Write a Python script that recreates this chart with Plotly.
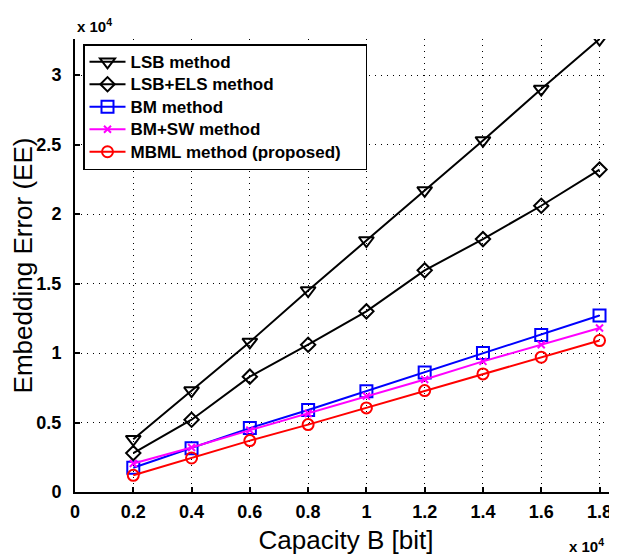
import plotly.graph_objects as go

capacity = [2000, 4000, 6000, 8000, 10000, 12000, 14000, 16000, 18000]
lsb = [3800, 7300, 10800, 14500, 18100, 21700, 25300, 29000, 32600]
lsb_els = [2800, 5200, 8300, 10600, 13000, 15950, 18200, 20600, 23200]
bm = [1750, 3150, 4600, 5900, 7250, 8600, 10000, 11300, 12700]
bm_sw = [2050, 3200, 4450, 5650, 6900, 8100, 9400, 10600, 11800]
mbml = [1200, 2450, 3700, 4850, 6050, 7300, 8500, 9700, 10900]

names = ["LSB method", "LSB+ELS method", "BM method", "BM+SW method", "MBML method (proposed)"]
series = [lsb, lsb_els, bm, bm_sw, mbml]
colors = ["black", "black", "blue", "magenta", "red"]
symbols = ["triangle-down-open", "diamond-open", "square-open", "x-thin-open", "circle-open"]
sizes = [13, 11, 12, 7, 11]

x_ticks = [0, 2000, 4000, 6000, 8000, 10000, 12000, 14000, 16000, 18000]
x_tick_text = ["0", "0.2", "0.4", "0.6", "0.8", "1", "1.2", "1.4", "1.6", "1.8"]
y_ticks = [0, 5000, 10000, 15000, 20000, 25000, 30000]
y_tick_text = ["0", "0.5", "1", "1.5", "2", "2.5", "3"]

FONT = "Liberation Sans, Arial, sans-serif"

fig = go.Figure()
for i, (name, vals, c, s, sz) in enumerate(zip(names, series, colors, symbols, sizes)):
    pad = "&nbsp;" * 4 if i == len(names) - 1 else ""
    fig.add_trace(go.Scatter(
        x=capacity, y=vals, name="<span style='font-size:17px'>" + name + pad + "</span>",
        mode="lines+markers",
        line=dict(color=c, width=2),
        marker=dict(symbol=s, size=sz, color=c, line=dict(color=c, width=2)),
    ))

axis_common = dict(
    showline=True, linecolor="black", linewidth=2, mirror=False,
    ticks="inside", ticklen=5, tickcolor="black", tickwidth=2,
    showgrid=True, gridcolor="black", griddash="1px,5px", gridwidth=1.2,
    zeroline=False, automargin=False,
    tickfont=dict(family=FONT, size=18, color="black", weight="bold"),
)

# page body has an 8px margin, so the figure is shifted by 8px right and down
fig.update_layout(
    width=609, height=547,
    margin=dict(l=67, r=0, t=31, b=63),
    paper_bgcolor="white", plot_bgcolor="white",
    xaxis=dict(range=[0, 18600], tickvals=x_ticks, ticktext=x_tick_text,
               ticklabelstandoff=2,
               title=dict(text="Capacity B [bit]", font=dict(family=FONT, size=26, color="black"), standoff=10),
               **axis_common),
    yaxis=dict(range=[0, 32600], tickvals=y_ticks, ticktext=y_tick_text,
               ticklabelstandoff=8,
               title=dict(text="Embedding Error (EE)", font=dict(family=FONT, size=26, color="black"), standoff=4),
               **axis_common),
    legend=dict(x=8 / 542, y=(484 - 36) / 453, xanchor="left", yanchor="top",
                bgcolor="white", bordercolor="black", borderwidth=1.5,
                font=dict(family=FONT, size=15, color="black", weight="bold"),
                itemwidth=36, tracegroupgap=0),
    showlegend=True,
    annotations=[
        dict(text="x 10<sup>4</sup>", xref="paper", yref="paper", x=0, y=1, xanchor="left", yanchor="bottom",
             yshift=2, showarrow=False, font=dict(family=FONT, size=15, color="black", weight="bold")),
        dict(text="x 10<sup>4</sup>", xref="paper", yref="paper", x=(598 - 67) / 542, y=0,
             xanchor="right", yanchor="top",
             yshift=-42, showarrow=False, font=dict(family=FONT, size=15, color="black", weight="bold")),
    ],
)

fig.write_html("out.html")
